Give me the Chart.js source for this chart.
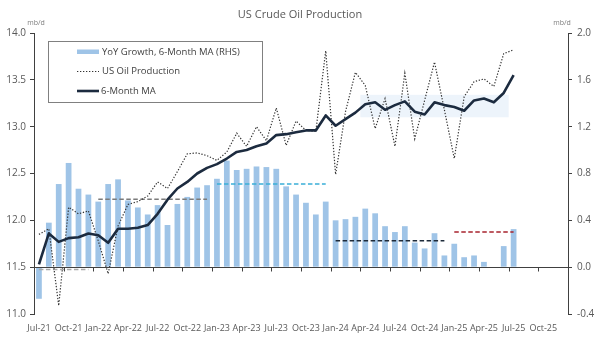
<!DOCTYPE html>
<html>
<head>
<meta charset="utf-8">
<script src="https://cdn.jsdelivr.net/npm/chart.js@4"></script>
<style>
  html, body { margin: 0; padding: 0; background: #ffffff; }
  #wrap { width: 600px; height: 338px; }
</style>
</head>
<body>
<div id="wrap"><canvas id="chart" width="600" height="338"></canvas></div>
<script>
// Monthly categories, Jul-21 through Dec-25
const months = [
  'Jul-21','Aug-21','Sep-21','Oct-21','Nov-21','Dec-21',
  'Jan-22','Feb-22','Mar-22','Apr-22','May-22','Jun-22','Jul-22','Aug-22','Sep-22','Oct-22','Nov-22','Dec-22',
  'Jan-23','Feb-23','Mar-23','Apr-23','May-23','Jun-23','Jul-23','Aug-23','Sep-23','Oct-23','Nov-23','Dec-23',
  'Jan-24','Feb-24','Mar-24','Apr-24','May-24','Jun-24','Jul-24','Aug-24','Sep-24','Oct-24','Nov-24','Dec-24',
  'Jan-25','Feb-25','Mar-25','Apr-25','May-25','Jun-25','Jul-25','Aug-25','Sep-25','Oct-25','Nov-25','Dec-25'
];

// YoY growth, 6-month MA (mb/d, right axis)
const yoyGrowth = [
  -0.27, 0.38, 0.71, 0.89, 0.67, 0.62,
  0.56, 0.71, 0.75, 0.57, 0.51, 0.45, 0.53, 0.36, 0.54, 0.60, 0.68, 0.70,
  0.755, 0.91, 0.83, 0.84, 0.86, 0.855, 0.84, 0.69, 0.62, 0.55, 0.45, 0.56,
  0.40, 0.41, 0.43, 0.50, 0.46, 0.35, 0.30, 0.35, 0.21, 0.16, 0.29, 0.10,
  0.20, 0.085, 0.10, 0.045, 0.0, 0.18, 0.325
];

// US crude oil production (mb/d, left axis)
const production = [
  11.85, 11.91, 11.09, 12.14, 12.07, 12.10,
  11.78, 11.43, 11.94, 12.17, 12.20, 12.26, 12.41, 12.34, 12.52, 12.71, 12.72, 12.69,
  12.64, 12.73, 12.93, 12.79, 13.00, 12.85, 13.20, 12.80, 13.06, 12.96, 12.95, 13.81,
  12.49, 13.16, 13.58, 13.44, 12.98, 13.30, 12.79, 13.57, 12.87, 13.28, 13.69, 13.18,
  12.66, 13.32, 13.48, 13.51, 13.43, 13.78, 13.82
];

// 6-month moving average of production (mb/d, left axis)
const movingAvg = [
  11.53, 11.86, 11.77, 11.81, 11.82, 11.86,
  11.84, 11.76, 11.91, 11.91, 11.92, 11.95, 12.07, 12.22, 12.34, 12.41, 12.50, 12.56,
  12.60, 12.66, 12.73, 12.75, 12.79, 12.82, 12.91, 12.92, 12.94, 12.96, 12.96, 13.12,
  13.01, 13.08, 13.15, 13.24, 13.26, 13.18, 13.23, 13.27, 13.16, 13.13, 13.26, 13.23,
  13.21, 13.17, 13.28, 13.30, 13.26, 13.36, 13.55
];

// Average YoY growth per calendar year (right axis)
const yearAvgStart = ['Jul-21', 'Jan-22', 'Jan-23', 'Jan-24', 'Jan-25'];
const yearAvgEnd   = ['Dec-21', 'Dec-22', 'Dec-23', 'Dec-24', 'Jul-25'];
const yearAvgValue = [-0.02, 0.58, 0.71, 0.225, 0.30];
const yearAvgColor = ['#a9a9a9', '#7a7a7a', '#3aaed8', '#1d2a3a', '#a8232e'];

// Plateau band on the production axis
const bandStart = 'Apr-24';
const bandEnd = 'Jun-25';
const bandLow = 13.10;
const bandHigh = 13.34;

// Tick labels
const leftTicks = [11.0, 11.5, 12.0, 12.5, 13.0, 13.5, 14.0];
const rightTicks = [-0.4, 0.0, 0.4, 0.8, 1.2, 1.6, 2.0];

const BAR_COLOR = '#9fc4e7';
const PROD_COLOR = '#333333';
const MA_COLOR = '#1c2b3f';
const DOT_DASH = [1.3, 1.7];
const TEXT_COLOR = '#595959';
const AXIS_COLOR = '#404040';
const FONT = '"Open Sans", "Liberation Sans", sans-serif';

Chart.defaults.font.family = FONT;
Chart.defaults.color = TEXT_COLOR;

function rangeSeries(startLabel, endLabel, value) {
  const a = months.indexOf(startLabel);
  const b = months.indexOf(endLabel);
  return months.map((m, i) => (i >= a && i <= b) ? value : null);
}

const avgDatasets = yearAvgValue.map((v, k) => ({
  type: 'line',
  label: 'avg' + k,
  data: rangeSeries(yearAvgStart[k], yearAvgEnd[k], v),
  yAxisID: 'y2',
  borderColor: yearAvgColor[k],
  borderWidth: 1.6,
  borderDash: [4.5, 2.5],
  pointRadius: 0,
  spanGaps: false,
  order: 5
}));

function boundaryPixel(xs, idx) {
  // left edge of category idx
  const p = xs.getPixelForValue(idx);
  const half = (xs.getPixelForValue(1) - xs.getPixelForValue(0)) / 2;
  return p - half;
}

const decorations = {
  id: 'decorations',
  beforeDatasetsDraw(chart) {
    const { ctx } = chart;
    const xs = chart.scales.x, ys = chart.scales.y;
    const x0 = boundaryPixel(xs, months.indexOf(bandStart));
    const x1 = boundaryPixel(xs, months.indexOf(bandEnd) + 1);
    const yTop = ys.getPixelForValue(bandHigh);
    const yBot = ys.getPixelForValue(bandLow);
    ctx.save();
    ctx.fillStyle = '#edf4fb';
    ctx.fillRect(x0, yTop, x1 - x0, yBot - yTop);
    ctx.restore();
  },
  afterDatasetsDraw(chart) {
    const { ctx, chartArea } = chart;
    const xs = chart.scales.x, y2 = chart.scales.y2;
    const y0 = Math.round(y2.getPixelForValue(0)) + 0.5;
    ctx.save();
    ctx.strokeStyle = AXIS_COLOR;
    ctx.lineWidth = 1;
    ctx.beginPath();
    ctx.moveTo(chartArea.left, y0);
    ctx.lineTo(chartArea.right, y0);
    for (let k = 3; k < months.length; k += 3) {
      const bx = Math.round(boundaryPixel(xs, k)) + 0.5;
      ctx.moveTo(bx, y0);
      ctx.lineTo(bx, y0 + 4);
    }
    ctx.stroke();
    ctx.restore();
  },
  afterDraw(chart) {
    const { ctx } = chart;
    ctx.save();
    // title
    ctx.fillStyle = TEXT_COLOR;
    ctx.font = '11px ' + FONT;
    ctx.textAlign = 'center';
    ctx.textBaseline = 'middle';
    ctx.fillText('US Crude Oil Production', 300, 15);
    // axis units
    ctx.font = '7px ' + FONT;
    ctx.fillStyle = '#7f7f7f';
    ctx.fillText('mb/d', 36, 23);
    ctx.fillText('mb/d', 562, 23);
    // legend
    ctx.fillStyle = '#ffffff';
    ctx.fillRect(48, 41, 214, 61);
    ctx.strokeStyle = '#808080';
    ctx.lineWidth = 1;
    ctx.strokeRect(48.5, 41.5, 214, 61);
    ctx.fillStyle = BAR_COLOR;
    ctx.fillRect(77, 49.5, 22, 4.5);
    ctx.strokeStyle = PROD_COLOR;
    ctx.lineWidth = 1.2;
    ctx.setLineDash(DOT_DASH);
    ctx.beginPath();
    ctx.moveTo(77, 71.5);
    ctx.lineTo(99, 71.5);
    ctx.stroke();
    ctx.setLineDash([]);
    ctx.strokeStyle = MA_COLOR;
    ctx.lineWidth = 2.6;
    ctx.beginPath();
    ctx.moveTo(77, 91);
    ctx.lineTo(99, 91);
    ctx.stroke();
    ctx.fillStyle = AXIS_COLOR;
    ctx.font = '9.5px ' + FONT;
    ctx.textAlign = 'left';
    ctx.fillText('YoY Growth, 6-Month MA (RHS)', 102, 52);
    ctx.fillText('US Oil Production', 102, 71.5);
    ctx.fillText('6-Month MA', 101, 91);
    ctx.restore();
  }
};

new Chart(document.getElementById('chart'), {
  type: 'bar',
  data: {
    labels: months,
    datasets: [
      {
        type: 'line',
        label: '6-Month MA',
        data: movingAvg,
        yAxisID: 'y',
        borderColor: MA_COLOR,
        borderWidth: 2.6,
        pointRadius: 0,
        tension: 0,
        borderJoinStyle: 'round',
        order: 1
      },
      {
        type: 'line',
        label: 'US Oil Production',
        data: production,
        yAxisID: 'y',
        borderColor: PROD_COLOR,
        borderWidth: 1.2,
        borderDash: DOT_DASH,
        pointRadius: 0,
        tension: 0,
        order: 2
      },
      ...avgDatasets,
      {
        type: 'bar',
        label: 'YoY Growth, 6-Month MA (RHS)',
        data: yoyGrowth,
        yAxisID: 'y2',
        backgroundColor: BAR_COLOR,
        barPercentage: 0.58,
        categoryPercentage: 1.0,
        order: 10
      }
    ]
  },
  options: {
    responsive: false,
    animation: false,
    devicePixelRatio: 1,
    layout: { padding: { top: 33, left: 0, right: 0, bottom: 0 } },
    plugins: {
      legend: { display: false },
      title: { display: false },
      tooltip: { enabled: false }
    },
    scales: {
      x: {
        type: 'category',
        offset: true,
        grid: { display: false },
        border: { display: false },
        ticks: {
          autoSkip: false,
          maxRotation: 0,
          minRotation: 0,
          padding: 1,
          color: TEXT_COLOR,
          font: { size: 9 },
          callback: function(v, i) { return i % 3 === 0 ? months[i] : ''; }
        },
        afterFit(scale) { scale.height = 24; }
      },
      y: {
        position: 'left',
        min: leftTicks[0],
        max: leftTicks[leftTicks.length - 1],
        afterBuildTicks(scale) { scale.ticks = leftTicks.map(v => ({ value: v })); },
        grid: { display: true, drawOnChartArea: false, drawTicks: true, tickLength: 4, color: AXIS_COLOR },
        border: { display: true, color: AXIS_COLOR, width: 1 },
        ticks: {
          padding: 4,
          color: TEXT_COLOR,
          font: { size: 10 },
          callback: v => Number(v).toFixed(1)
        },
        afterFit(scale) { scale.width = 34; }
      },
      y2: {
        position: 'right',
        min: rightTicks[0],
        max: rightTicks[rightTicks.length - 1],
        afterBuildTicks(scale) { scale.ticks = rightTicks.map(v => ({ value: v })); },
        grid: { display: true, drawOnChartArea: false, drawTicks: true, tickLength: 4, color: AXIS_COLOR },
        border: { display: true, color: AXIS_COLOR, width: 1 },
        ticks: {
          padding: 5,
          color: TEXT_COLOR,
          font: { size: 10 },
          callback: v => (Math.abs(v) < 1e-9 ? 0 : Number(v)).toFixed(1)
        },
        afterFit(scale) { scale.width = 32; }
      }
    }
  },
  plugins: [decorations]
});
</script>
</body>
</html>
